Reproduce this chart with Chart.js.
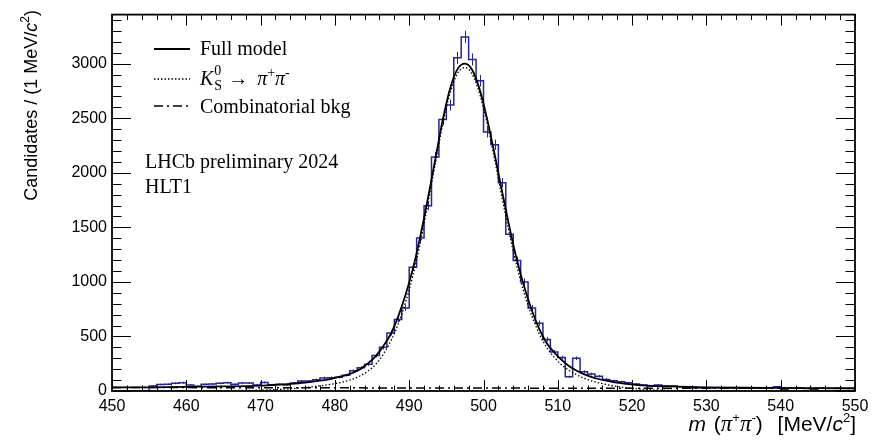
<!DOCTYPE html>
<html>
<head>
<meta charset="utf-8">
<script src="https://cdn.jsdelivr.net/npm/chart.js@4.4.1/dist/chart.umd.min.js"></script>
<style>
  body { margin: 0; background: #fff; }
  canvas { display: block; }
</style>
</head>
<body>
<canvas id="massChart" width="879" height="441"></canvas>
<script>
// ---------------- data ----------------
// candidates per 1 MeV bin, first bin starts at 450 MeV
var binStart = 450;
var binCounts = [
  0, 0, 0, 0, 0, 46, 60, 62, 70, 76,
  55, 43, 61, 64, 70, 76, 61, 73, 73, 55,
  79, 58, 61, 55, 73, 91, 92, 103, 120, 122,
  126, 145, 185, 213, 245, 325, 400, 532, 655, 760,
  1134, 1402, 1697, 2145, 2488, 2621, 3054, 3245, 3039, 2843,
  2373, 2257, 1909, 1436, 1197, 1000, 761, 621, 473, 357,
  306, 130, 300, 176, 155, 136, 106, 94, 85, 76,
  64, 55, 46, 55, 46, 45, 40, 30, 28, 30,
  28, 30, 26, 30, 28, 25, 28, 26, 27, 40,
  12, 25, 28, 24, 15, 0, 0, 0, 0, 0
];

var xTickLabels = [450, 460, 470, 480, 490, 500, 510, 520, 530, 540, 550];
var yTickLabels = [0, 500, 1000, 1500, 2000, 2500, 3000];

// fit curves
var fitMass = [450, 455, 460, 465, 470, 472, 474, 476, 478, 479.5, 480.5, 481.5, 482.5, 483.5,
  484.5, 485.5, 486.5, 487.5, 488.5, 489.5, 490.5, 491.5, 492.5, 493.5, 494.5, 495.5, 496.5,
  497.5, 498.5, 499.5, 500.5, 501.5, 502.5, 503.5, 504.5, 505.5, 506.5, 507.5, 508.5, 509.5,
  510.5, 511.5, 512.5, 513.5, 514.5, 515.5, 516.5, 517.5, 518.5, 519.5, 520.5, 522, 525,
  530, 535, 540, 545, 550];
var fullModel = [32, 34, 37, 42, 50, 57, 66, 78, 95, 112, 128, 146, 170, 205,
  255, 320, 410, 520, 680, 880, 1120, 1420, 1760, 2120, 2480, 2770, 2950,
  3000, 2940, 2760, 2490, 2170, 1830, 1500, 1200, 950, 740, 570, 440, 355,
  285, 230, 188, 155, 130, 110, 95, 82, 72, 64, 57, 50, 42,
  34, 30, 28, 26, 25];
var signalModel = [0, 0.3, 1, 3, 8, 13, 21, 32, 48, 62, 74, 90, 112, 142,
  185, 245, 335, 455, 610, 810, 1060, 1360, 1710, 2080, 2440, 2730, 2910,
  2965, 2900, 2720, 2450, 2120, 1770, 1440, 1140, 890, 690, 525, 400, 310,
  240, 190, 150, 118, 93, 75, 60, 47, 37, 28, 21, 14, 6,
  2, 0.5, 0, 0, 0];

var bkgMass = [450, 460, 470, 480, 490, 500, 510, 520, 530, 540, 550];
var bkgModel = [32, 31, 30, 29, 28, 27, 26, 25.5, 25, 24.5, 24];

var histBlue = '#24249c';

// ---------------- build points ----------------
function pairs(xs, ys) {
  return xs.map(function (x, i) { return { x: x, y: ys[i] }; });
}

var histPoints = binCounts.map(function (c, i) { return { x: binStart + i, y: c }; });
histPoints.push({ x: binStart + binCounts.length, y: binCounts[binCounts.length - 1] });

// ---------------- drawing helpers ----------------
function drawPieces(ctx, pieces, x, y) {
  pieces.forEach(function (p) {
    ctx.font = p.font;
    ctx.fillText(p.text, x, y + (p.dy || 0));
    x += ctx.measureText(p.text).width + (p.gap || 0);
  });
  return x;
}
function piecesWidth(ctx, pieces) {
  var w = 0;
  pieces.forEach(function (p) {
    ctx.font = p.font;
    w += ctx.measureText(p.text).width + (p.gap || 0);
  });
  return w;
}

var SANS = '"Liberation Sans", Arial, sans-serif';
var SERIF = '"Liberation Serif", "Times New Roman", serif';

// error bars under the curves
var errorBars = {
  id: 'errorBars',
  beforeDatasetsDraw: function (chart) {
    var ctx = chart.ctx, xs = chart.scales.x, ys = chart.scales.y;
    ctx.save();
    ctx.strokeStyle = histBlue;
    ctx.lineWidth = 1;
    ctx.beginPath();
    binCounts.forEach(function (c, i) {
      if (c <= 0) return;
      var px = Math.round(xs.getPixelForValue(binStart + i + 0.5)) + 0.5;
      var e = Math.sqrt(c);
      ctx.moveTo(px, ys.getPixelForValue(c - e));
      ctx.lineTo(px, ys.getPixelForValue(c + e));
    });
    ctx.stroke();
    ctx.restore();
  }
};

// ROOT style frame, inward ticks, legend and titles
var rootFrame = {
  id: 'rootFrame',
  afterDraw: function (chart) {
    var ctx = chart.ctx, a = chart.chartArea, xs = chart.scales.x, ys = chart.scales.y;
    ctx.save();
    ctx.strokeStyle = '#000';
    ctx.lineWidth = 1;
    ctx.beginPath();
    for (var m = 450; m <= 550; m += 2) {
      var px = Math.round(xs.getPixelForValue(m)) + 0.5;
      var len = (m % 10 === 0) ? 11 : 5.5;
      ctx.moveTo(px, a.bottom); ctx.lineTo(px, a.bottom - len);
      ctx.moveTo(px, a.top); ctx.lineTo(px, a.top + len);
    }
    for (var v = 0; v <= 3400; v += 100) {
      var py = Math.round(ys.getPixelForValue(v)) + 0.5;
      var l2 = (v % 500 === 0) ? 19 : 9.5;
      ctx.moveTo(a.left, py); ctx.lineTo(a.left + l2, py);
      ctx.moveTo(a.right, py); ctx.lineTo(a.right - l2, py);
    }
    ctx.stroke();
    ctx.lineWidth = 1.8;
    ctx.strokeRect(a.left, a.top, a.right - a.left, a.bottom - a.top);

    // legend
    ctx.fillStyle = '#000';
    ctx.textBaseline = 'alphabetic';
    ctx.textAlign = 'left';
    ctx.lineWidth = 1.8;
    ctx.beginPath(); ctx.moveTo(154, 49); ctx.lineTo(190, 49); ctx.stroke();
    ctx.setLineDash([1.5, 2]);
    ctx.lineWidth = 1.3;
    ctx.beginPath(); ctx.moveTo(154, 79); ctx.lineTo(190, 79); ctx.stroke();
    ctx.setLineDash([9, 4, 2, 4]);
    ctx.lineWidth = 1.5;
    ctx.beginPath(); ctx.moveTo(154, 106); ctx.lineTo(190, 106); ctx.stroke();
    ctx.setLineDash([]);

    var f = '20px ' + SERIF, fi = 'italic 20px ' + SERIF, fs = '14px ' + SERIF;
    drawPieces(ctx, [{ text: 'Full model', font: f }], 200, 55);
    var kx = drawPieces(ctx, [{ text: 'K', font: fi }], 200, 85);
    drawPieces(ctx, [{ text: '0', font: fs, dy: -10 }], kx + 1, 85);
    drawPieces(ctx, [
      { text: 'S', font: fs, dy: 5, gap: 6 },
      { text: '\u2192', font: f, gap: 9 },
      { text: '\u03c0', font: fi },
      { text: '+', font: fs, dy: -8 },
      { text: '\u03c0', font: fi },
      { text: '-', font: fs, dy: -8 }
    ], kx + 1, 85);
    drawPieces(ctx, [{ text: 'Combinatorial bkg', font: f }], 200, 112.5);
    drawPieces(ctx, [{ text: 'LHCb preliminary 2024', font: f }], 145, 167.5);
    drawPieces(ctx, [{ text: 'HLT1', font: f }], 145, 192.5);

    // x title, right aligned to the frame
    var xt = [
      { text: 'm', font: 'italic 21px ' + SANS, gap: 2 },
      { text: ' (', font: '21px ' + SANS },
      { text: '\u03c0', font: 'italic 23px ' + SERIF },
      { text: '+', font: '13px ' + SANS, dy: -9 },
      { text: '\u03c0', font: 'italic 23px ' + SERIF },
      { text: '-', font: '13px ' + SANS, dy: -9 },
      { text: ') ', font: '21px ' + SANS, gap: 9 },
      { text: '[MeV/', font: '21px ' + SANS },
      { text: 'c', font: 'italic 21px ' + SANS },
      { text: '2', font: '13px ' + SANS, dy: -9 },
      { text: ']', font: '21px ' + SANS }
    ];
    drawPieces(ctx, xt, a.right + 1 - piecesWidth(ctx, xt), 431);

    // y title, rotated, ending at the top of the frame
    var yt = [
      { text: 'Candidates / (1 MeV/', font: '18px ' + SANS },
      { text: 'c', font: 'italic 18px ' + SANS },
      { text: '2', font: '12px ' + SANS, dy: -8 },
      { text: ')', font: '18px ' + SANS }
    ];
    var yw = piecesWidth(ctx, yt);
    ctx.translate(37, 10 + yw);
    ctx.rotate(-Math.PI / 2);
    drawPieces(ctx, yt, 0, 0);
    ctx.restore();
  }
};

var ctx = document.getElementById('massChart');

new Chart(ctx, {
  type: 'line',
  data: {
    datasets: [
      {
        label: 'Full model',
        data: pairs(fitMass, fullModel),
        borderColor: '#000',
        borderWidth: 1.8,
        pointRadius: 0,
        cubicInterpolationMode: 'monotone'
      },
      {
        label: 'K_S -> pi pi',
        data: pairs(fitMass, signalModel),
        borderColor: '#000',
        borderWidth: 1.3,
        borderDash: [1.5, 2],
        pointRadius: 0,
        cubicInterpolationMode: 'monotone'
      },
      {
        label: 'Combinatorial bkg',
        data: pairs(bkgMass, bkgModel),
        borderColor: '#000',
        borderWidth: 1.5,
        borderDash: [9, 4, 2, 4],
        pointRadius: 0,
        cubicInterpolationMode: 'monotone'
      },
      {
        label: 'Data',
        data: histPoints,
        borderColor: histBlue,
        borderWidth: 1.5,
        pointRadius: 0,
        stepped: 'before'
      }
    ]
  },
  options: {
    responsive: false,
    animation: false,
    layout: { padding: { left: 0, right: 24, top: 11, bottom: 0 } },
    plugins: { legend: { display: false }, tooltip: { enabled: false } },
    scales: {
      x: {
        type: 'linear',
        min: 450,
        max: 550,
        afterBuildTicks: function (s) { s.ticks = xTickLabels.map(function (v) { return { value: v }; }); },
        afterFit: function (s) { s.height = 50; },
        grid: { display: false, drawTicks: false },
        border: { display: false },
        ticks: {
          color: '#000', padding: 6, maxRotation: 0, autoSkip: false,
          font: { family: SANS, size: 16 },
          callback: function (v) { return String(v); }
        }
      },
      y: {
        type: 'linear',
        min: 0,
        max: 3450,
        afterBuildTicks: function (s) { s.ticks = yTickLabels.map(function (v) { return { value: v }; }); },
        afterFit: function (s) { s.width = 112; },
        grid: { display: false, drawTicks: false },
        border: { display: false },
        ticks: {
          color: '#000', padding: 5,
          font: { family: SANS, size: 16 },
          callback: function (v) { return String(v); }
        }
      }
    }
  },
  plugins: [errorBars, rootFrame]
});
</script>
</body>
</html>
